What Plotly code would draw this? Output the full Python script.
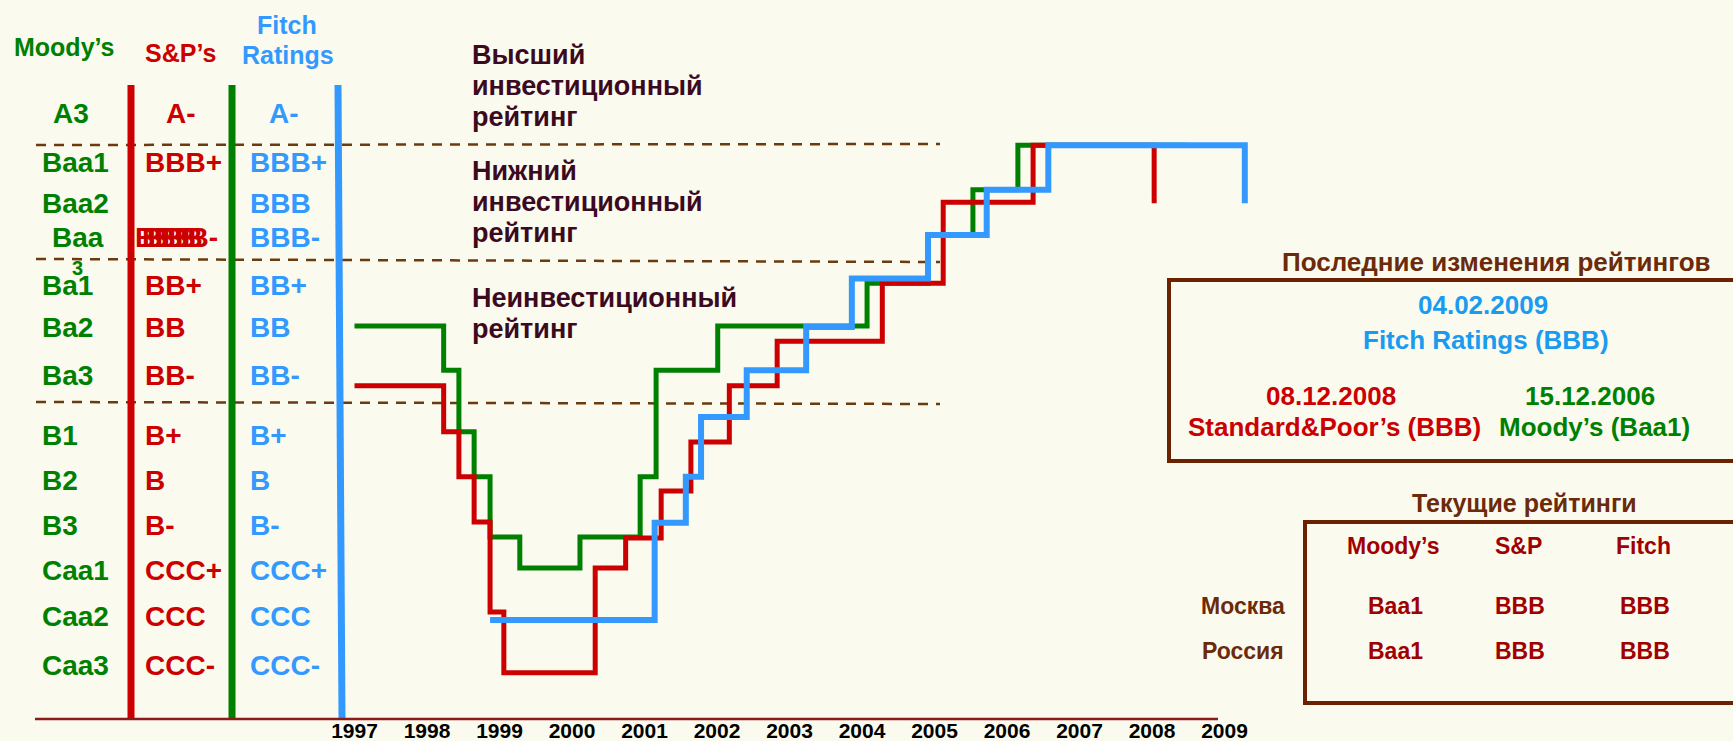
import plotly.graph_objects as go

# rating history: date of change (fractional year) and new level
# level is in notches below A3 / A- (0 = A3, 1 = Baa1, ... 12 = Caa3)
moodys_dates = [1997.0, 1998.23, 1998.44, 1998.65, 1998.87, 1999.28, 2000.11, 2000.94,
                2001.16, 2002.01, 2004.07, 2004.91, 2005.53, 2006.15, 2008.48]
moodys_level = [4.63, 5.59, 6.93, 7.91, 9.22, 9.89, 9.22, 7.91,
                5.59, 4.63, 3.7, 2.65, 1.67, 0.7, 0.7]

sp_dates = [1997.0, 1998.23, 1998.44, 1998.65, 1998.87, 1999.06, 2000.32, 2000.74,
            2001.23, 2001.64, 2002.17, 2002.83, 2004.28, 2005.12, 2006.36, 2008.03]
sp_level = [5.93, 6.93, 7.91, 8.89, 10.85, 12.17, 9.89, 9.24,
            8.22, 7.15, 5.93, 4.96, 3.7, 1.94, 0.7, 1.96]

fitch_dates = [1998.87, 2001.14, 2001.57, 2001.78, 2002.41, 2003.23, 2003.86,
               2004.91, 2005.72, 2006.57, 2009.28]
fitch_level = [11.02, 8.91, 7.91, 6.61, 5.59, 4.65, 3.6,
               2.65, 1.67, 0.7, 1.96]

years = list(range(1997, 2010))

moodys_scale = ["A3", "Baa1", "Baa2", "Baa3", "Ba1", "Ba2", "Ba3",
                "B1", "B2", "B3", "Caa1", "Caa2", "Caa3"]
sp_scale = ["A-", "BBB+", "BBB", "BBB-", "BB+", "BB", "BB-",
            "B+", "B", "B-", "CCC+", "CCC", "CCC-"]
fitch_scale = ["A-", "BBB+", "BBB", "BBB-", "BB+", "BB", "BB-",
               "B+", "B", "B-", "CCC+", "CCC", "CCC-"]

bands = [["Высший", "инвестиционный", "рейтинг"],
         ["Нижний", "инвестиционный", "рейтинг"],
         ["Неинвестиционный", "рейтинг"]]

latest_changes = [("04.02.2009", "Fitch Ratings (BBB)"),
                  ("08.12.2008", "Standard&Poor’s (BBB)"),
                  ("15.12.2006", "Moody’s (Baa1)")]

agencies = ["Moody’s", "S&P", "Fitch"]
regions = ["Москва", "Россия"]
current = [["Baa1", "BBB", "BBB"],
           ["Baa1", "BBB", "BBB"]]

# ---- look -----------------------------------------------------------------
W, H = 1733, 741
BG = "#FAFBEE"
GREEN = "#008000"
RED = "#CC0000"
BLUE = "#3399FF"
BOX_BLUE = "#1A9BF0"
BROWN = "#6B2A0A"
DARKRED = "#A00000"
DASH = "#6B3A0E"
BAND_TXT = "#3C0A1E"
FONT = "Liberation Sans, Arial, sans-serif"

# pixel geometry of the axes
X0_PX, PX_PER_YEAR = 354.5, 72.5
Y0_PX, PX_PER_NOTCH = 113.0, 46.0
ROW_Y = [113, 163, 203, 238, 285, 328, 375, 435, 480, 525, 570, 616, 665]


def px(x, y):
    return x / W, 1 - y / H


fig = go.Figure()

fig.add_trace(go.Scatter(x=moodys_dates, y=moodys_level, mode="lines", line_shape="hv",
                         line=dict(color=GREEN, width=5), name="Moody’s"))
fig.add_trace(go.Scatter(x=sp_dates, y=sp_level, mode="lines", line_shape="hv",
                         line=dict(color=RED, width=5), name="S&P"))
fig.add_trace(go.Scatter(x=fitch_dates, y=fitch_level, mode="lines", line_shape="hv",
                         line=dict(color=BLUE, width=6), name="Fitch"))

annotations = []


def text(s, x, y, size, color, anchor="left"):
    ax, ay = px(x, y)
    annotations.append(dict(text=s, x=ax, y=ay, xref="paper", yref="paper",
                            xanchor=anchor, yanchor="middle", showarrow=False,
                            font=dict(family=FONT, size=size, color=color, weight="bold")))


# column headers
text("Moody’s", 64, 47, 25, GREEN, "center")
text("S&P’s", 180, 53, 25, RED, "center")
text("Fitch", 287, 25, 25, BLUE, "center")
text("Ratings", 288, 55, 25, BLUE, "center")

# rating scales
for i, y in enumerate(ROW_Y):
    m, s, f = moodys_scale[i], sp_scale[i], fitch_scale[i]
    if i == 0:
        text(m, 71, y, 28, GREEN, "center")
        text(s, 181, y, 28, RED, "center")
        text(f, 284, y, 28, BLUE, "center")
        continue
    if m == "Baa3":
        text("Baa", 50, y, 28, GREEN)
        text("3", 77, y + 30, 20, GREEN, "center")
    else:
        text(m, 40, y, 28, GREEN)
    if s == "BBB":
        # drawn overlapped with BBB- on the next row
        for dx in (133, 140):
            text(s, dx, ROW_Y[i + 1], 28, RED)
    elif s == "BBB-":
        text(s, 146, y, 28, RED)
    else:
        text(s, 143, y, 28, RED)
    text(f, 248, y, 28, BLUE)

# band captions
band_top = [55, 171, 298]
for lines, y0 in zip(bands, band_top):
    for k, line in enumerate(lines):
        text(line, 470, y0 + 31 * k, 27, BAND_TXT)

# latest changes box
text("Последние изменения рейтингов", 1496, 262, 26, BROWN, "center")
text(latest_changes[0][0], 1483, 305, 26, BOX_BLUE, "center")
text(latest_changes[0][1], 1486, 340, 26, BOX_BLUE, "center")
text(latest_changes[1][0], 1331, 396, 26, RED, "center")
text(latest_changes[1][1], 1334, 427, 26, RED, "center")
text(latest_changes[2][0], 1590, 396, 26, GREEN, "center")
text(latest_changes[2][1], 1594, 427, 26, GREEN, "center")

# current ratings table
text("Текущие рейтинги", 1524, 503, 25, BROWN, "center")
col_x = [1393, 1518, 1643]
for a, cx in zip(agencies, col_x):
    text(a, cx, 546, 23, DARKRED, "center")
row_y = [606, 651]
for r, ry, vals in zip(regions, row_y, current):
    text(r, 1243, ry, 23, BROWN, "center")
    for v, cx in zip(vals, col_x):
        text(v, cx + 2, ry, 23, DARKRED, "center")

shapes = []


def seg(x0, y0, x1, y1, color, width, dash="solid", layer="above"):
    a, b = px(x0, y0)
    c, d = px(x1, y1)
    shapes.append(dict(type="line", xref="paper", yref="paper", x0=a, y0=b, x1=c, y1=d,
                       line=dict(color=color, width=width, dash=dash), layer=layer))


def rect(x0, y0, x1, y1, color, width):
    a, b = px(x0, y0)
    c, d = px(x1, y1)
    shapes.append(dict(type="rect", xref="paper", yref="paper", x0=a, y0=b, x1=c, y1=d,
                       line=dict(color=color, width=width), fillcolor="rgba(0,0,0,0)"))


# scale separators
seg(131, 85, 131, 718, RED, 7)
seg(232, 85, 232, 718, GREEN, 7)
seg(338, 85, 342, 718, BLUE, 7)

# band boundaries
for yl, yr in [(145, 144), (259, 262), (402, 404)]:
    seg(36, yl, 940, yr, DASH, 2.5, "10px,8px", "below")

# time axis line
seg(35, 719, 1218, 719, "#8B1A1A", 2.5)

rect(1169, 280, 1745, 461, "#6B2200", 4)
rect(1305, 522, 1745, 703, "#6B2200", 4)

fig.update_layout(
    width=W, height=H, autosize=False,
    margin=dict(l=0, r=0, t=0, b=0),
    paper_bgcolor=BG, plot_bgcolor=BG,
    showlegend=False,
    annotations=annotations,
    shapes=shapes,
    xaxis=dict(range=[1997 - X0_PX / PX_PER_YEAR, 1997 + (W - X0_PX) / PX_PER_YEAR],
               domain=[0, 1], anchor="free", position=1 - 716 / H,
               tickvals=years, ticktext=[str(y) for y in years],
               ticks="", showgrid=False, zeroline=False, showline=False,
               tickfont=dict(family=FONT, size=21, color="black", weight="bold")),
    yaxis=dict(range=[(H - Y0_PX) / PX_PER_NOTCH, -Y0_PX / PX_PER_NOTCH],
               domain=[0, 1], showticklabels=False, showgrid=False,
               zeroline=False, showline=False, ticks=""),
)

# the page body has a default 8px margin; drop it so the figure fills the window
fig.write_html("out.html",
               config={"displayModeBar": False},
               post_script="document.body.style.margin='0';"
                           "document.body.style.overflow='hidden';"
                           f"document.body.style.background='{BG}';")
